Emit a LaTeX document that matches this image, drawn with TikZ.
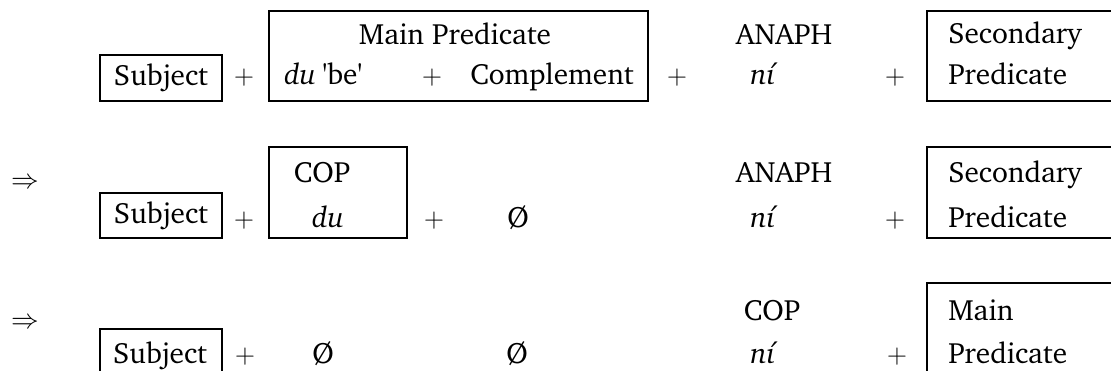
\documentclass[tikz,border=0pt]{standalone}
\usepackage[T1]{fontenc}
\usepackage{charter}
\usepackage{tikz}
\usetikzlibrary{positioning}

\begin{document}
\begin{tikzpicture}[
    x=0.75pt, y=-0.75pt,
    font=\fontsize{22}{31}\selectfont,
    frame/.style={draw, line width=1.4pt, inner sep=0pt, anchor=north west},
    word/.style={inner sep=0pt, anchor=base},
    lword/.style={inner sep=0pt, anchor=base west},
    plus/.style={inner sep=0pt, anchor=base}
]
\clip (0,0) rectangle (1111,371);

% first line
\node[frame, minimum width=122*0.75pt, minimum height=46*0.75pt] (subjA) at (99,54) {Subject};
\node[plus] (pA1) at (244,84) {$+$};
\node[frame, minimum width=379*0.75pt, minimum height=90*0.75pt] (mainA) at (268,10) {};
\node[word] (mainlbl) at (455,44) {Main Predicate};
\node[lword] (duA) at (284,84) {\textit{du}};
\node[lword] (beA) at (322,84) {\textquotesingle be\textquotesingle};
\node[plus] (pA2) at (432,84) {$+$};
\node[word] (compA) at (552,84) {Complement};
\node[plus] (pA3) at (677,84) {$+$};
\node[word] (anaphA) at (784,44) {ANAPH};
\node[word] (niA) at (764,84) {\textit{n\'{\i}}};
\node[plus] (pA4) at (895,84) {$+$};
\node[frame, minimum width=200*0.75pt, minimum height=90*0.75pt] (secA) at (926,10) {};
\node[lword] (secA1) at (948,43) {Secondary};
\node[lword] (secA2) at (948,84) {Predicate};

% second line
\node (arrB) at (25,183) {$\Rightarrow$};
\node[frame, minimum width=122*0.75pt, minimum height=45*0.75pt] (subjB) at (99,192) {Subject};
\node[plus] (pB1) at (244,227) {$+$};
\node[frame, minimum width=138*0.75pt, minimum height=91*0.75pt] (copB) at (268,146) {};
\node[word] (coplbl) at (322,182) {COP};
\node[word] (duB) at (328,227) {\textit{du}};
\node[plus] (pB2) at (434,227) {$+$};
\node[word] (zeroB) at (518,227) {\O};
\node[word] (anaphB) at (784,182) {ANAPH};
\node[word] (niB) at (764,227) {\textit{n\'{\i}}};
\node[plus] (pB3) at (895,227) {$+$};
\node[frame, minimum width=200*0.75pt, minimum height=91*0.75pt] (secB) at (926,146) {};
\node[lword] (secB1) at (948,182) {Secondary};
\node[lword] (secB2) at (948,227) {Predicate};

% third line
\node (arrC) at (25,323) {$\Rightarrow$};
\node[frame, minimum width=122*0.75pt, minimum height=60*0.75pt] (subjC) at (99,328) {};
\node[word] (subjlbl) at (160,363) {Subject};
\node[plus] (pC1) at (245,363) {$+$};
\node[word] (zeroC1) at (323,363) {\O};
\node[word] (zeroC2) at (517,363) {\O};
\node[word] (copC) at (772,320) {COP};
\node[word] (niC) at (764,363) {\textit{n\'{\i}}};
\node[plus] (pC2) at (897,363) {$+$};
\node[frame, minimum width=200*0.75pt, minimum height=110*0.75pt] (mainC) at (926,282) {};
\node[lword] (mainC1) at (948,320) {Main};
\node[lword] (mainC2) at (948,363) {Predicate};

\end{tikzpicture}
\end{document}
